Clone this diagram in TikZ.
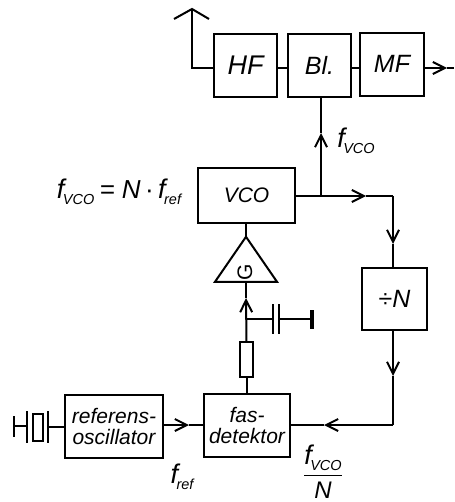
\documentclass[tikz,border=0pt]{standalone}
\usepackage{amsmath}
\usepackage{fontspec}
\setmainfont{Liberation Sans}
\usetikzlibrary{arrows.meta,shapes.geometric,calc}
\newcommand{\fsig}[1]{\textit{{\fontsize{27}{27}\selectfont f}\kern-1.5pt\raisebox{-5.5pt}{\fontsize{14.5}{14.5}\selectfont #1}}}
\begin{document}
\begin{tikzpicture}[x=1pt, y=-1pt, line width=2pt, >={Straight Barb[length=12pt,width=12pt]},
                    block/.style={rectangle, draw, inner sep=0pt, outer sep=0pt, align=center, font=\fontsize{21}{21}\selectfont\itshape},
                    sigtext/.style={inner sep=0pt, font=\fontsize{26}{26}\selectfont}]
    \useasboundingbox (0,0) rectangle (454,502);

    % Receiver chain
    \node[block, minimum width=63pt, minimum height=63pt, font=\fontsize{27}{27}\selectfont\itshape] (hf) at (245.5,65.5) {HF};
    \node[block, minimum width=63pt, minimum height=63pt, font=\fontsize{25}{25}\selectfont\itshape] (bl) at (319.5,65.5) {Bl.};
    \node[block, minimum width=64pt, minimum height=63pt, font=\fontsize{25}{25}\selectfont\itshape] (mf) at (392,64.5) {\raisebox{2pt}{MF}};
    \coordinate (anttop) at (192,9);
    \coordinate (antleft) at (174,19);
    \coordinate (antright) at (209,19);
    \coordinate (antfoot) at (192,68);
    \coordinate (out) at (454,68);
    \coordinate (outtip) at (447,68);
    \draw (antleft) -- (anttop) -- (antright);
    \draw (anttop) -- (antfoot) -- (antfoot -| hf.west);
    \draw (antfoot -| hf.east) -- (antfoot -| bl.west);
    \draw (antfoot -| bl.east) -- (antfoot -| mf.west);
    \draw[->] (antfoot -| mf.east) -- (outtip);
    \draw (outtip) -- (out);

    % Loop
    \node[block, minimum width=97pt, minimum height=55pt] (vco) at (246.5,195.5) {VCO};
    \node[block, minimum width=65pt, minimum height=62pt, font=\fontsize{25}{25}\selectfont] (div) at (394.5,299) {÷\textit{N}};
    \node[block, minimum width=86pt, minimum height=63pt] (fas) at (247,425.5) {fas-\\detektor};
    \node[block, minimum width=98pt, minimum height=63pt] (ref) at (114,426.5) {referens-\\oscillator};
    \node[isosceles triangle, isosceles triangle stretches, shape border rotate=90, draw, inner sep=0pt, outer sep=0pt,
          minimum width=62pt, minimum height=45pt] (amp) at (246,265.5) {};
    \node[inner sep=0pt, rotate=90, font=\fontsize{21}{21}\selectfont] (gain) at (245,272) {G};
    \node[rectangle, draw, inner sep=0pt, outer sep=0pt, minimum width=13pt, minimum height=35pt] (res) at (246.5,359.5) {};

    \coordinate (split) at (321,196);
    \coordinate (tipbl) at (321,133);
    \coordinate (tipvco) at (366,196);
    \coordinate (corner) at (393,196);
    \coordinate (tipdiv) at (393,244);
    \coordinate (tipback) at (393,376);
    \coordinate (bottom) at (393,425);
    \coordinate (tipfas) at (324,425);
    \coordinate (tipref) at (189,425);
    \coordinate (tipamp) at (246,298);

    \draw (vco.east |- split) -- (split);
    \draw[->] (split) -- (tipbl);
    \draw (tipbl) -- (tipbl |- bl.south);
    \draw[->] (split) -- (tipvco);
    \draw (tipvco) -- (corner);
    \draw[->] (corner) -- (tipdiv);
    \draw (tipdiv) -- (tipdiv |- div.north);
    \draw[->] (tipdiv |- div.south) -- (tipback);
    \draw (tipback) -- (bottom);
    \draw[->] (bottom) -- (tipfas);
    \draw (tipfas) -- (tipfas -| fas.east);
    \draw[->] (tipref -| ref.east) -- (tipref);
    \draw (tipref) -- (tipref -| fas.west);
    \draw (fas.north -| res) -- (res.south);
    \draw[->] (res.north) -- (tipamp);
    \draw (tipamp) -- (tipamp |- amp.lower side);
    \draw (vco.south -| amp.apex) -- (amp.apex);

    % Capacitor to ground
    \coordinate (capin) at (246,319);
    \coordinate (plateA) at (273,319);
    \coordinate (plateB) at (279,319);
    \coordinate (gnd) at (312,319);
    \draw (capin) -- (plateA);
    \draw (plateA |- 0,304) -- (plateA |- 0,334);
    \draw (plateB |- 0,304) -- (plateB |- 0,334);
    \draw (plateB) -- (gnd);
    \draw[line width=3.5pt] (gnd |- 0,310) -- (gnd |- 0,329);

    % Crystal
    \node[rectangle, draw, inner sep=0pt, outer sep=0pt, minimum width=10pt, minimum height=27pt] (xtal) at (38,427.5) {};
    \coordinate (xleft) at (27,426);
    \coordinate (xright) at (48,427);
    \coordinate (xend) at (14,426);
    \draw (xleft |- 0,411) -- (xleft |- 0,443);
    \draw (xright |- 0,411) -- (xright |- 0,443);
    \draw (xend |- 0,416) -- (xend |- 0,437);
    \draw (xend) -- (xleft);
    \draw (xright) -- (xright -| ref.west);

    % Labels
    \node[sigtext] (fbl) at (356,141) {\fsig{VCO}};
    \node[sigtext] (fout) at (119,192) {\fsig{VCO} \kern-2pt\textit{= N}\,·\,\fsig{ref}};
    \node[sigtext] (fr) at (182,477) {\fsig{ref}};
    \node[sigtext] (ffrac) at (323,472) {$\dfrac{\hbox{\fsig{VCO}}}{\hbox{\fontsize{24}{24}\selectfont\textit{N}}}$};
\end{tikzpicture}
\end{document}
